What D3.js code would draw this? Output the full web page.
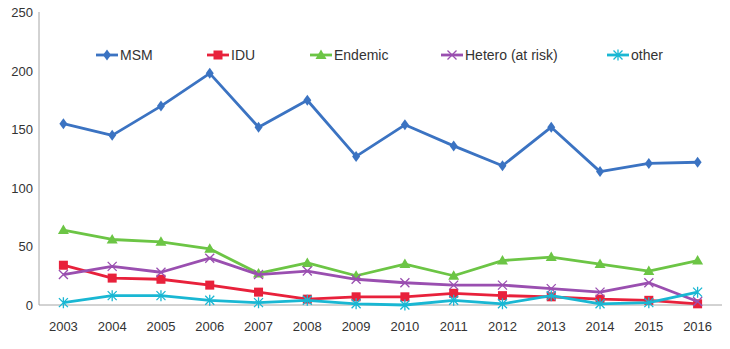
<!DOCTYPE html>
<html><head><meta charset="utf-8">
<script src="https://cdn.jsdelivr.net/npm/d3@7"></script>
<style>body{margin:0;background:#fff}svg{display:block}text{font-family:"Liberation Sans Narrow","Liberation Sans",Arial,sans-serif;fill:#333}</style>
</head><body><svg id="c" width="730" height="349"></svg>
<script>
const years=["2003","2004","2005","2006","2007","2008","2009","2010","2011","2012","2013","2014","2015","2016"];
const msm=[155,145,170,198,152,175,127,154,136,119,152,114,121,122];
const idu=[34,23,22,17,11,5,7,7,10,8,7,5,4,1];
const endemic=[64,56,54,48,27,36,25,35,25,38,41,35,29,38];
const hetero=[26,33,28,40,26,29,22,19,17,17,14,11,19,3];
const other=[2,8,8,4,2,4,1,0,4,1,8,1,2,11];
const yTicks=[0,50,100,150,200,250];
const series=[
 {name:"MSM",values:msm,color:"#3b73c2",sym:"diamond"},
 {name:"IDU",values:idu,color:"#e8213b",sym:"square"},
 {name:"Endemic",values:endemic,color:"#6cc545",sym:"triangle"},
 {name:"Hetero (at risk)",values:hetero,color:"#9a4fb0",sym:"x"},
 {name:"other",values:other,color:"#19b7d3",sym:"star"}
];
const svg=d3.select("#c");
const x=d3.scalePoint().domain(years).range([39,722]).padding(0.5);
const y=d3.scaleLinear().domain([0,250]).range([305,12.5]);
// axes
svg.append("line").attr("x1",39).attr("x2",39).attr("y1",12).attr("y2",305).attr("stroke","#a6a6a6").attr("stroke-width",1);
svg.append("line").attr("x1",39).attr("x2",722).attr("y1",305).attr("y2",305).attr("stroke","#a6a6a6").attr("stroke-width",1);
svg.selectAll(".yt").data(yTicks).enter().append("text").attr("x",33).attr("y",d=>y(d)+4.5).attr("text-anchor","end").attr("font-size",13).text(d=>d);
svg.selectAll(".xt").data(years).enter().append("text").attr("x",d=>x(d)).attr("y",331).attr("text-anchor","middle").attr("font-size",13).text(d=>d);
function marker(g,sym,color,cx,cy){
  if(sym==="diamond") g.append("path").attr("d",`M${cx},${cy-5.5}L${cx+4},${cy}L${cx},${cy+5.5}L${cx-4},${cy}Z`).attr("fill",color);
  else if(sym==="square") g.append("rect").attr("x",cx-4.5).attr("y",cy-4.5).attr("width",9).attr("height",9).attr("fill",color);
  else if(sym==="triangle") g.append("path").attr("d",`M${cx},${cy-5.5}L${cx+5.5},${cy+4}L${cx-5.5},${cy+4}Z`).attr("fill",color);
  else if(sym==="x") g.append("path").attr("d",`M${cx-4.5},${cy-4.5}L${cx+4.5},${cy+4.5}M${cx-4.5},${cy+4.5}L${cx+4.5},${cy-4.5}`).attr("stroke",color).attr("stroke-width",1.3).attr("fill","none");
  else if(sym==="star") g.append("path").attr("d",`M${cx-4.5},${cy-4.5}L${cx+4.5},${cy+4.5}M${cx-4.5},${cy+4.5}L${cx+4.5},${cy-4.5}M${cx},${cy-5.5}L${cx},${cy+5.5}`).attr("stroke",color).attr("stroke-width",1.3).attr("fill","none");
}
const line=d3.line().x((d,i)=>x(years[i])).y(d=>y(d));
series.forEach(s=>{
  const g=svg.append("g");
  g.append("path").attr("d",line(s.values)).attr("fill","none").attr("stroke",s.color).attr("stroke-width",2.8).attr("stroke-linejoin","round");
  s.values.forEach((v,i)=>marker(g,s.sym,s.color,x(years[i]),y(v)));
});
// legend
const legX=[96,207,310,441,607];
series.forEach((s,i)=>{
  const g=svg.append("g");
  const lx=legX[i], ly=55;
  g.append("line").attr("x1",lx).attr("x2",lx+22).attr("y1",ly).attr("y2",ly).attr("stroke",s.color).attr("stroke-width",2.8);
  marker(g,s.sym,s.color,lx+11,ly);
  g.append("text").attr("x",lx+24).attr("y",ly+5).attr("font-size",14).text(s.name);
});
</script></body></html>
